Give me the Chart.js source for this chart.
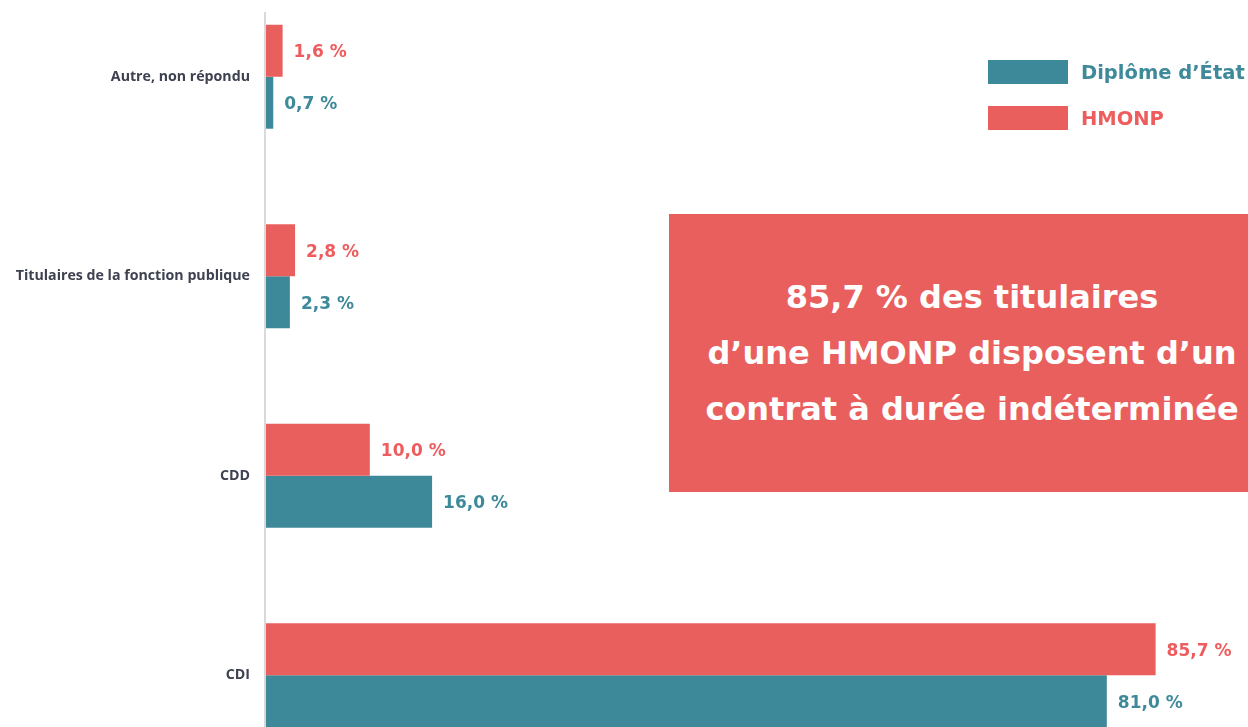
<!DOCTYPE html>
<html lang="fr">
<head>
<meta charset="utf-8">
<script src="https://cdn.jsdelivr.net/npm/chart.js@4"></script>
<style>
  html, body { margin: 0; padding: 0; background: #fff; overflow: hidden; }
  body { width: 1248px; height: 727px; position: relative; }
  #wrap { position: absolute; left: 0; top: -23px; width: 1248px; height: 798px; }
  #legend { position: absolute; left: 988px; top: 60px; font: bold 19.5px "DejaVu Sans", sans-serif; }
  .item { display: flex; align-items: center; height: 24px; margin-bottom: 22px; }
  .swatch { width: 80px; height: 24px; margin-right: 13px; }
  #box {
    position: absolute; left: 669px; top: 214px; width: 606px; height: 278px;
    background: #e95f5e; color: #fff; display: flex; align-items: center; justify-content: center;
    text-align: center; font: bold 32px "DejaVu Sans", sans-serif; line-height: 56px;
  }
</style>
</head>
<body>
<div id="wrap"><canvas id="chart"></canvas></div>
<div id="legend"></div>
<div id="box"><div>85,7 % des titulaires<br>d’une HMONP disposent d’un<br>contrat à durée indéterminée</div></div>
<script>
const categories = ['Autre, non répondu', 'Titulaires de la fonction publique', 'CDD', 'CDI'];
const hmonp = [1.6, 2.8, 10.0, 85.7];
const diplomeEtat = [0.7, 2.3, 16.0, 81.0];

const barColors = ['#e95f5e', '#3e8999'];
const textColors = ['#ee5c5e', '#3e8a9a'];

// étiquettes de valeur à droite des barres
const valueLabels = {
  id: 'valueLabels',
  afterDatasetsDraw(chart) {
    const ctx = chart.ctx;
    ctx.save();
    ctx.font = 'bold 17px "DejaVu Sans", sans-serif';
    ctx.textBaseline = 'middle';
    chart.data.datasets.forEach((ds, i) => {
      chart.getDatasetMeta(i).data.forEach((bar, j) => {
        ctx.fillStyle = textColors[i];
        ctx.fillText(ds.data[j].toFixed(1).replace('.', ',') + ' %', bar.x + 11, bar.y + 2);
      });
    });
    ctx.restore();
  }
};

// axe vertical gris
const axisLine = {
  id: 'axisLine',
  afterDraw(chart) {
    const { ctx, chartArea } = chart;
    ctx.save();
    ctx.strokeStyle = '#d9d9d9';
    ctx.lineWidth = 2;
    ctx.beginPath();
    ctx.moveTo(chartArea.left - 1, chartArea.top + 35);
    ctx.lineTo(chartArea.left - 1, chartArea.bottom);
    ctx.stroke();
    ctx.restore();
  }
};

const chart = new Chart(document.getElementById('chart'), {
  type: 'bar',
  data: {
    labels: categories,
    datasets: [
      { label: 'HMONP', data: hmonp, backgroundColor: barColors[0] },
      { label: 'Diplôme d’État', data: diplomeEtat, backgroundColor: barColors[1] }
    ]
  },
  options: {
    indexAxis: 'y',
    responsive: true,
    maintainAspectRatio: false,
    animation: false,
    layout: { padding: 0 },
    datasets: { bar: { categoryPercentage: 0.521, barPercentage: 1 } },
    plugins: { legend: { display: false }, tooltip: { enabled: false } },
    scales: {
      x: { display: false, min: 0, max: 94.6 },
      y: {
        grid: { display: false, drawTicks: false },
        border: { display: false },
        ticks: { color: '#3d4150', padding: 16, font: { family: 'Open Sans', size: 14.2, weight: 'bold' } },
        afterFit(scale) {
          scale.width = 266;
          scale.paddingTop = 0;
          scale.paddingBottom = 0;
        }
      }
    }
  },
  plugins: [valueLabels, axisLine]
});

// légende HTML
const legend = document.getElementById('legend');
[1, 0].forEach(i => {
  const item = document.createElement('div');
  item.className = 'item';
  item.innerHTML = '<span class="swatch" style="background:' + barColors[i] + '"></span>' +
    '<span style="color:' + textColors[i] + '">' + chart.data.datasets[i].label + '</span>';
  legend.appendChild(item);
});
</script>
</body>
</html>
